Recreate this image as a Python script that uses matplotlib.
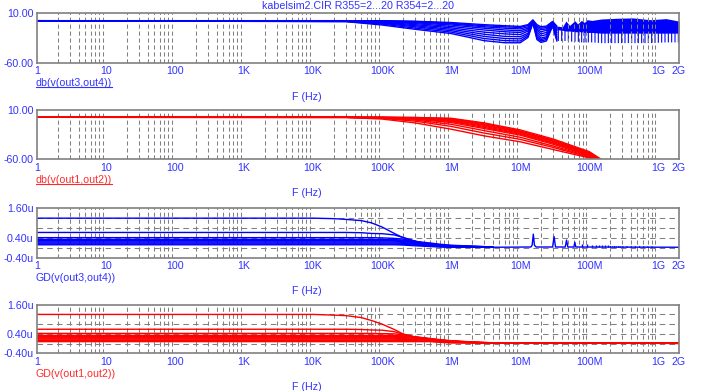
import matplotlib
matplotlib.use('Agg')
import matplotlib.pyplot as plt
from matplotlib.ticker import LogLocator, NullFormatter
from matplotlib.lines import Line2D

plt.rcParams['font.family'] = ['Liberation Sans', 'DejaVu Sans']
plt.rcParams['lines.scale_dashes'] = False
plt.rcParams['hatch.linewidth'] = 0.8

W, H = 701, 391
BLUE = '#0000ff'
RED = '#ff0000'
TXT = '#3333ff'
TXT_RED = '#ff2a2a'
GRID = '#808080'
FS = 7.7

title = 'kabelsim2.CIR R355=2...20 R354=2...20'
xtick_vals = [1, 10, 100, 1e3, 1e4, 1e5, 1e6, 1e7, 1e8, 1e9, 2e9]
xtick_labels = ['1', '10', '100', '1K', '10K', '100K', '1M', '10M', '100M', '1G', '2G']

# ---- panel 1: db(v(out3,out4)) ----
db34_f = [1, 30e3, 100e3, 300e3, 1e6, 3e6, 6e6, 10e6, 13e6, 15.3e6, 17.5e6, 20e6, 24e6, 29.5e6, 34e6]
db34 = [
    [-0.4, -0.4, -0.5, -1.2, -3.0, -6.0, -7.5, -8.5, -6.0, 0.5, -6.0, -9.0, -8.0, -1.5, -8.0],
    [-0.4, -0.4, -0.6, -1.6, -4.0, -7.5, -9.0, -10.0, -7.0, 0.3, -8.0, -11.0, -10.0, -2.0, -10.0],
    [-0.4, -0.5, -0.9, -2.3, -5.0, -9.0, -11.0, -12.0, -9.0, 0.0, -10.0, -13.0, -12.0, -2.5, -12.0],
    [-0.4, -0.6, -1.3, -3.3, -6.5, -11.0, -13.5, -14.5, -11.0, -0.5, -12.0, -16.0, -14.0, -3.0, -14.0],
    [-0.4, -0.7, -1.8, -4.5, -8.5, -13.5, -16.0, -17.0, -13.0, -1.0, -14.0, -19.0, -17.0, -3.5, -17.0],
    [-0.4, -0.9, -2.5, -6.0, -10.5, -16.5, -19.0, -20.0, -15.0, -1.5, -17.0, -22.0, -20.0, -4.0, -20.0],
    [-0.4, -1.1, -3.3, -7.5, -12.5, -19.5, -22.5, -23.0, -18.0, -2.0, -20.0, -25.0, -23.0, -5.0, -23.0],
    [-0.4, -1.3, -4.2, -9.0, -14.5, -22.5, -25.5, -26.0, -20.0, -2.5, -23.0, -27.0, -25.0, -6.0, -25.0],
    [-0.4, -1.5, -5.3, -10.8, -16.5, -25.5, -28.5, -29.0, -22.0, -3.0, -25.0, -29.0, -27.0, -7.0, -27.0],
    [-0.4, -1.8, -6.5, -12.5, -18.5, -28.5, -31.5, -31.5, -24.0, -3.5, -27.0, -31.0, -29.0, -8.0, -29.0],
]
# dense ringing region above ~34 MHz (envelopes)
dense_f = [34e6, 41e6, 46e6, 52e6, 62e6, 68e6, 77e6, 85e6, 93e6, 110e6, 150e6, 250e6, 430e6, 770e6, 1.3e9, 2e9]
dense_top = [-8.0, -9.0, -1.0, -7.0, -0.5, -5.0, 0.0, -3.0, 1.0, 0.0, 2.0, 3.0, 3.5, 1.0, 2.5, -1.0]
dense_mid = [-13, -14, -15, -15, -16, -16, -16, -17, -17, -17, -18, -18, -18, -18, -18, -18]
dense_bot = [-29, -29, -29, -30, -30, -30, -31, -31, -31, -31, -32, -32, -32, -32, -31, -31]

# ---- panel 2: db(v(out1,out2)) ----
db12_f = [1, 30e3, 100e3, 300e3, 1e6, 3e6, 10e6, 30e6, 100e6, 200e6]
db12 = [
    [0, 0, 0, -0.2, -1.4, -8.0, -18.0, -31.0, -49.0, -68.0],
    [0, 0, 0, -0.4, -2.0, -9.0, -19.5, -32.5, -50.0, -69.0],
    [0, 0, -0.1, -0.7, -3.0, -10.5, -20.5, -33.5, -51.0, -70.0],
    [0, 0, -0.2, -1.0, -4.0, -11.5, -21.5, -34.5, -52.0, -70.0],
    [0, 0, -0.3, -1.5, -5.0, -13.0, -23.0, -36.0, -53.0, -71.0],
    [0, 0, -0.4, -2.0, -6.0, -14.5, -24.0, -37.0, -54.0, -72.0],
    [0, 0, -0.6, -2.8, -7.5, -16.0, -25.5, -38.5, -55.0, -72.0],
    [0, -0.1, -1.0, -4.0, -10.0, -19.0, -28.5, -41.0, -56.0, -73.0],
    [0, -0.2, -1.5, -5.5, -13.0, -22.5, -31.5, -43.0, -57.0, -74.0],
    [0, -0.3, -2.5, -8.0, -17.0, -26.5, -35.0, -46.0, -58.0, -75.0],
]

# ---- panels 3/4: group delay, in microseconds ----
gd_f = [1, 10e3, 20e3, 30e3, 50e3, 70e3, 100e3, 150e3, 200e3, 300e3, 500e3, 700e3, 1e6, 2e6, 4e6]
gd34 = [
    [1.20, 1.20, 1.18, 1.15, 1.10, 1.01, 0.84, 0.58, 0.41, 0.26, 0.12, 0.07, 0.04, 0.02, 0.02],
    [0.62, 0.62, 0.62, 0.62, 0.61, 0.58, 0.57, 0.52, 0.42, 0.27, 0.13, 0.07, 0.04, 0.02, 0.02],
    [0.41, 0.41, 0.41, 0.41, 0.41, 0.41, 0.40, 0.38, 0.35, 0.25, 0.12, 0.07, 0.04, 0.02, 0.02],
    [0.34, 0.34, 0.34, 0.34, 0.34, 0.34, 0.34, 0.33, 0.31, 0.26, 0.19, 0.14, 0.10, 0.07, 0.03],
    [0.30, 0.30, 0.30, 0.30, 0.30, 0.30, 0.30, 0.30, 0.28, 0.23, 0.17, 0.12, 0.09, 0.06, 0.03],
    [0.27, 0.27, 0.27, 0.27, 0.27, 0.27, 0.27, 0.27, 0.25, 0.20, 0.14, 0.10, 0.07, 0.05, 0.02],
    [0.23, 0.23, 0.23, 0.23, 0.23, 0.23, 0.23, 0.23, 0.22, 0.17, 0.12, 0.08, 0.06, 0.04, 0.02],
    [0.19, 0.19, 0.19, 0.19, 0.19, 0.19, 0.19, 0.19, 0.18, 0.14, 0.09, 0.06, 0.04, 0.03, 0.02],
    [0.15, 0.15, 0.15, 0.15, 0.15, 0.15, 0.15, 0.15, 0.14, 0.11, 0.07, 0.04, 0.03, 0.02, 0.02],
    [0.12, 0.12, 0.12, 0.12, 0.12, 0.12, 0.12, 0.12, 0.11, 0.08, 0.05, 0.03, 0.02, 0.02, 0.02],
]
gd34_hf_f = [4e6, 14.3e6, 14.9e6, 15.5e6, 16.1e6, 17e6, 29.5e6, 31e6, 32.5e6, 45e6, 47e6, 49e6, 60e6, 62e6, 64e6, 2e9]
gd34_hf_v = [0.02, 0.03, 0.10, 0.55, 0.10, 0.03, 0.03, 0.45, 0.03, 0.03, 0.31, 0.03, 0.03, 0.22, 0.03, 0.02]
gd34_spike_f = [78e6, 93e6, 109e6, 124e6, 140e6, 155e6, 171e6, 186e6, 217e6, 248e6, 280e6]
gd34_spike_v = [0.17, 0.15, 0.13, 0.12, 0.12, 0.11, 0.10, 0.10, 0.09, 0.08, 0.08]
gd34_noise_f = [200e6, 900e6]
gd34_noise_lo = [0.0, 0.0]
gd34_noise_hi = [0.07, 0.06]

gd12_f = [1, 10e3, 20e3, 30e3, 50e3, 70e3, 100e3, 150e3, 200e3, 300e3, 500e3, 700e3, 1e6, 2e6, 4e6, 2e9]
gd12 = [
    [1.20, 1.20, 1.17, 1.15, 1.07, 0.95, 0.80, 0.58, 0.40, 0.27, 0.19, 0.14, 0.10, 0.05, 0.02, 0.01],
    [0.59, 0.59, 0.59, 0.59, 0.58, 0.56, 0.55, 0.49, 0.38, 0.27, 0.19, 0.14, 0.10, 0.05, 0.02, 0.01],
    [0.42, 0.42, 0.42, 0.42, 0.42, 0.42, 0.41, 0.40, 0.36, 0.27, 0.19, 0.14, 0.10, 0.05, 0.02, 0.01],
    [0.34, 0.34, 0.34, 0.34, 0.34, 0.34, 0.34, 0.34, 0.32, 0.28, 0.21, 0.16, 0.12, 0.07, 0.03, 0.01],
    [0.30, 0.30, 0.30, 0.30, 0.30, 0.30, 0.30, 0.30, 0.29, 0.25, 0.19, 0.14, 0.11, 0.06, 0.03, 0.01],
    [0.26, 0.26, 0.26, 0.26, 0.26, 0.26, 0.26, 0.26, 0.25, 0.22, 0.17, 0.13, 0.10, 0.06, 0.03, 0.01],
    [0.22, 0.22, 0.22, 0.22, 0.22, 0.22, 0.22, 0.22, 0.21, 0.19, 0.15, 0.11, 0.08, 0.05, 0.02, 0.01],
    [0.18, 0.18, 0.18, 0.18, 0.18, 0.18, 0.18, 0.18, 0.17, 0.16, 0.13, 0.09, 0.06, 0.04, 0.02, 0.01],
    [0.13, 0.13, 0.13, 0.13, 0.13, 0.13, 0.13, 0.13, 0.13, 0.12, 0.10, 0.07, 0.04, 0.03, 0.02, 0.01],
    [0.08, 0.08, 0.08, 0.08, 0.08, 0.08, 0.08, 0.08, 0.08, 0.08, 0.08, 0.05, 0.03, 0.02, 0.02, 0.01],
]
gd_hgrid = [0.0, 0.4, 0.8, 1.2]

# panel boxes in pixels (top, bottom)
boxes = [(13.3, 63.0), (110.3, 159.3), (208.3, 257.6), (304.7, 353.3)]
labels = ['db(v(out3,out4))', 'db(v(out1,out2))', 'GD(v(out3,out4))', 'GD(v(out1,out2))']
label_cols = [TXT, TXT_RED, TXT, TXT_RED]
underline = [True, True, False, False]

fig = plt.figure(figsize=(W / 100, H / 100), dpi=100)


def make_axes(top, bot):
    ax = fig.add_axes([37 / W, 1 - bot / H, (679 - 37) / W, (bot - top) / H])
    ax.set_xscale('log')
    ax.set_xlim(1, 2e9)
    ax.set_xticks(xtick_vals)
    ax.set_xticklabels(xtick_labels)
    ax.xaxis.set_minor_locator(LogLocator(base=10, subs=[2, 3, 4, 5, 6, 7, 8, 9], numticks=100))
    ax.xaxis.set_minor_formatter(NullFormatter())
    ax.tick_params(which='both', length=0, colors=TXT, labelsize=FS)
    ax.tick_params(axis='x', pad=2.5)
    ax.tick_params(axis='y', pad=2.6)
    ax.grid(which='minor', axis='x', color=GRID, lw=0.75, ls=(0, (3, 2)))
    for s in ax.spines.values():
        s.set_color(GRID)
        s.set_linewidth(1.2)
    return ax


axes = [make_axes(t, b) for t, b in boxes]

# panel 1
ax = axes[0]
ax.set_ylim(-60, 10)
ax.set_yticks([-60, 10])
ax.set_yticklabels(['-60.00', '10.00'])
for c in db34:
    ax.plot(db34_f, c, color=BLUE, lw=1.0)
ax.fill_between(dense_f, dense_mid, dense_top, color=BLUE, lw=0)
ax.fill_between(dense_f, dense_bot, dense_mid, facecolor='none', edgecolor=BLUE,
                hatch='|||||', lw=0)

# panel 2
ax = axes[1]
ax.set_ylim(-60, 10)
ax.set_yticks([-60, 10])
ax.set_yticklabels(['-60.00', '10.00'])
for c in db12:
    ax.plot(db12_f, c, color=RED, lw=1.0)

# panel 3
ax = axes[2]
ax.set_ylim(-0.4, 1.6)
ax.set_yticks([-0.4, 0.4, 1.6])
ax.set_yticklabels(['-0.40u', '0.40u', '1.60u'])
for h in gd_hgrid:
    ax.axhline(h, color=GRID, lw=0.75, ls=(0, (4, 3)), zorder=1)
for c in gd34:
    ax.plot(gd_f, c, color=BLUE, lw=1.0)
ax.plot(gd34_hf_f, gd34_hf_v, color=BLUE, lw=1.0)
ax.vlines(gd34_spike_f, 0.02, gd34_spike_v, color=BLUE, lw=1.0)
ax.fill_between(gd34_noise_f, gd34_noise_lo, gd34_noise_hi, facecolor='none',
                edgecolor=BLUE, hatch='||||', lw=0)

# panel 4
ax = axes[3]
ax.set_ylim(-0.4, 1.6)
ax.set_yticks([-0.4, 0.4, 1.6])
ax.set_yticklabels(['-0.40u', '0.40u', '1.60u'])
for h in gd_hgrid:
    ax.axhline(h, color=GRID, lw=0.75, ls=(0, (4, 3)), zorder=1)
for c in gd12:
    ax.plot(gd12_f, c, color=RED, lw=1.0)

# texts
fig.text(358 / W, 1 - 6 / H, title, ha='center', va='center', color=TXT, fontsize=FS)
label_texts = []
for (top, bot), lab, col in zip(boxes, labels, label_cols):
    t = fig.text(36 / W, 1 - (bot + 20.3) / H, lab, ha='left', va='center', color=col, fontsize=FS)
    label_texts.append(t)
    fig.text(307 / W, 1 - (bot + 33.7) / H, 'F (Hz)', ha='center', va='center', color=TXT, fontsize=FS)

fig.canvas.draw()
renderer = fig.canvas.get_renderer()
for t, ul, col in zip(label_texts, underline, label_cols):
    if not ul:
        continue
    bb = t.get_window_extent(renderer)
    yy = (bb.y0 + 1.0) / H
    fig.add_artist(Line2D([bb.x0 / W, bb.x1 / W], [yy, yy], transform=fig.transFigure,
                          color=col, lw=0.8))

fig.savefig('out.png', dpi=100)
